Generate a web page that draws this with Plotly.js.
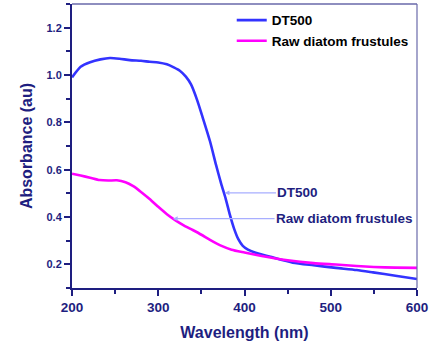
<!DOCTYPE html>
<html>
<head>
<meta charset="utf-8">
<script src="https://cdn.plot.ly/plotly-3.0.1.min.js"></script>
<style>html,body{margin:0;padding:0;background:#fff;}#chart{width:432px;height:345px;}</style>
</head>
<body>
<div id="chart"></div>
<script>
const seriesNames = ["DT500", "Raw diatom frustules"];
const wlDT500 = [200,210,221,233,244,255,267,280,290,300,310,318,325,332,338,345,352,360,367,373,378,383,388,393,398,404,412,420,430,456,480,506,530,549,575,600];
const absDT500 = [0.99,1.035,1.054,1.066,1.072,1.069,1.063,1.06,1.056,1.053,1.045,1.032,1.018,0.993,0.96,0.895,0.815,0.72,0.62,0.54,0.48,0.41,0.35,0.305,0.278,0.262,0.25,0.242,0.232,0.207,0.196,0.185,0.176,0.166,0.152,0.138];
const wlRaw = [200,210,221,232,242,252,262,271,280,290,300,310,320,330,340,350,360,372,385,400,420,450,480,506,530,550,575,600];
const absRaw = [0.583,0.575,0.566,0.556,0.554,0.555,0.547,0.53,0.506,0.476,0.443,0.412,0.386,0.364,0.345,0.325,0.303,0.28,0.262,0.25,0.235,0.217,0.205,0.199,0.193,0.189,0.186,0.185];
const xTicks = [200,300,400,500,600];
const yTicks = [0.2,0.4,0.6,0.8,1.0,1.2];
const annoDT500 = {head: [377, 0.502], text: [462, 0.502]};
const annoRaw = {head: [317, 0.393], text: [516, 0.393]};

const navy = '#1e1e80';
const font = 'Arial, Liberation Sans, sans-serif';
const traces = [
  {x: wlDT500, y: absDT500, name: seriesNames[0], mode: 'lines', line: {color: '#3333ff', width: 2.6, shape: 'spline', smoothing: 0.6}},
  {x: wlRaw, y: absRaw, name: seriesNames[1], mode: 'lines', line: {color: '#ff00ff', width: 2.6, shape: 'spline', smoothing: 0.6}}
];
const axisCommon = {
  showgrid: false, zeroline: false, showline: true, linecolor: navy, linewidth: 2,
  ticks: 'outside', ticklen: 6, tickwidth: 2, tickcolor: navy,
  tickfont: {family: font, size: 11, color: navy, weight: 'bold'},
};
const layout = {
  width: 432, height: 345,
  margin: {l: 72, r: 15, t: 4, b: 57},
  paper_bgcolor: '#ffffff', plot_bgcolor: '#ffffff',
  showlegend: true,
  legend: {x: 0.463, y: 0.997, xanchor: 'left', yanchor: 'top', bgcolor: 'rgba(0,0,0,0)',
    font: {family: font, size: 13.5, color: '#000', weight: 'bold'},
    tracegroupgap: 0},
  xaxis: Object.assign({}, axisCommon, {
    range: [200, 600], tickvals: xTicks, ticktext: xTicks.map(String),
    tickfont: {family: font, size: 13.5, color: navy, weight: 'bold'},
    minor: {dtick: 50, ticks: 'outside', ticklen: 4, tickwidth: 2, tickcolor: navy},
    title: {text: 'Wavelength (nm)', font: {family: font, size: 16, color: navy, weight: 'bold'}, standoff: 13}
  }),
  yaxis: Object.assign({}, axisCommon, {
    range: [0.1, 1.3], tickvals: yTicks, ticktext: yTicks.map(v => v.toFixed(1)),
    minor: {dtick: 0.1, tick0: 0.1, ticks: 'outside', ticklen: 4, tickwidth: 2, tickcolor: navy},
    title: {text: 'Absorbance (au)', font: {family: font, size: 16, color: navy, weight: 'bold'}, standoff: 10}
  }),
  shapes: [
    {type: 'line', xref: 'paper', yref: 'paper', x0: 0, x1: 1, y0: 1, y1: 1, line: {color: navy, width: 1.2}},
    {type: 'line', xref: 'paper', yref: 'paper', x0: 1, x1: 1, y0: 0, y1: 1, line: {color: '#6a6aaa', width: 1.2}}
  ],
  annotations: [
    {x: annoDT500.head[0], y: annoDT500.head[1], ax: annoDT500.text[0], ay: annoDT500.text[1], axref: 'x', ayref: 'y',
     text: seriesNames[0], showarrow: true, arrowhead: 2, arrowsize: 0.8, arrowwidth: 1.2, arrowcolor: '#a8aeff',
     font: {family: font, size: 13.5, color: navy, weight: 'bold'}},
    {x: annoRaw.head[0], y: annoRaw.head[1], ax: annoRaw.text[0], ay: annoRaw.text[1], axref: 'x', ayref: 'y',
     text: seriesNames[1], showarrow: true, arrowhead: 2, arrowsize: 0.8, arrowwidth: 1.2, arrowcolor: '#a8aeff',
     font: {family: font, size: 13.5, color: navy, weight: 'bold'}}
  ]
};
Plotly.newPlot('chart', traces, layout, {displayModeBar: false, staticPlot: true});
</script>
</body>
</html>
